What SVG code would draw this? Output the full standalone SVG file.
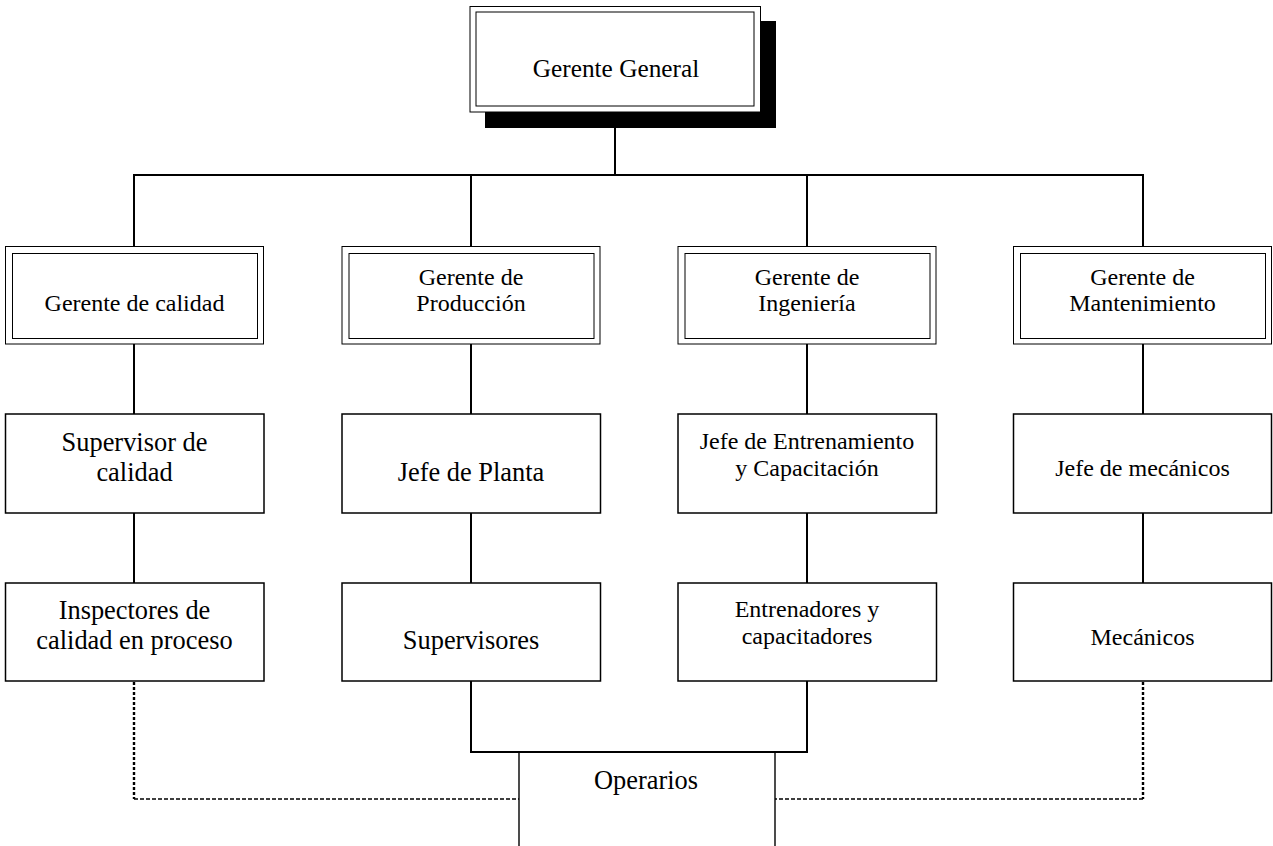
<svg xmlns="http://www.w3.org/2000/svg" width="1273" height="846" viewBox="0 0 1273 846">
  <style>
    text { font-family: "Liberation Serif", "Times New Roman", serif; fill: #000; text-anchor: middle; }
    .big { font-size: 26.4px; }
    .mid { font-size: 24px; }
    .top { font-size: 25.3px; }
    .box { fill: #fff; stroke: #000; stroke-width: 1.5; }
    .thin { fill: #fff; stroke: #000; stroke-width: 1; }
    .inner { fill: none; stroke: #000; stroke-width: 1; }
    .link { fill: none; stroke: #000; stroke-width: 2; }
    .link-thin { fill: none; stroke: #000; stroke-width: 1.4; }
    .dot { fill: none; stroke: #000; stroke-width: 2.4; stroke-dasharray: 3 2; }
    .dash { fill: none; stroke: #000; stroke-width: 1.3; stroke-dasharray: 4 2; }
  </style>
  <rect width="1273" height="846" fill="#fff"/>

  <!-- connectors -->
  <g id="connectors">
    <path class="link" d="M615 128 V175 M134 246 V175 H1143 V246 M471 175 V246 M807 175 V246"/>
    <path class="link" d="M134 344 V414 M471 344 V414 M807 344 V414 M1143 344 V414"/>
    <path class="link" d="M134 513 V583 M471 513 V583 M807 513 V583 M1143 513 V583"/>
    <path class="link" d="M471 681 V752 H807 V681"/>
    <path class="link-thin" d="M519 752 V846 M775 752 V846"/>
    <path class="dot" d="M134 682 V799"/>
    <path class="dash" d="M134 799 H519"/>
    <path class="dot" d="M1143 682 V799"/>
    <path class="dash" d="M1143 799 H775"/>
  </g>

  <!-- top node with drop shadow -->
  <g id="gerente-general">
    <rect x="485" y="21" width="291" height="107" fill="#000"/>
    <rect class="thin" x="470" y="6.5" width="290.5" height="105.5"/>
    <rect class="inner" x="476" y="12" width="278" height="94"/>
    <text class="top" x="616" y="77">Gerente General</text>
  </g>

  <!-- second level: double-framed managers -->
  <g id="gerente-calidad">
    <rect class="thin" x="5.5" y="246.5" width="258" height="97.5"/>
    <rect class="inner" x="12.5" y="253.5" width="245" height="85"/>
    <text class="mid" x="134.5" y="311">Gerente de calidad</text>
  </g>
  <g id="gerente-produccion">
    <rect class="thin" x="342" y="246.5" width="258" height="97.5"/>
    <rect class="inner" x="349" y="253.5" width="245" height="85"/>
    <text class="mid" x="471" y="285">Gerente de</text>
    <text class="mid" x="471" y="311">Producción</text>
  </g>
  <g id="gerente-ingenieria">
    <rect class="thin" x="678" y="246.5" width="258" height="97.5"/>
    <rect class="inner" x="685" y="253.5" width="245" height="85"/>
    <text class="mid" x="807" y="285">Gerente de</text>
    <text class="mid" x="807" y="311">Ingeniería</text>
  </g>
  <g id="gerente-mantenimiento">
    <rect class="thin" x="1013.5" y="246.5" width="258" height="97.5"/>
    <rect class="inner" x="1020.5" y="253.5" width="245" height="85"/>
    <text class="mid" x="1142.5" y="285">Gerente de</text>
    <text class="mid" x="1142.5" y="311">Mantenimiento</text>
  </g>

  <!-- third level -->
  <g id="supervisor-calidad">
    <rect class="box" x="5.5" y="414" width="258.5" height="99"/>
    <text class="big" x="134.5" y="451">Supervisor de</text>
    <text class="big" x="134.5" y="481">calidad</text>
  </g>
  <g id="jefe-planta">
    <rect class="box" x="342" y="414" width="258.5" height="99"/>
    <text class="big" x="471" y="481">Jefe de Planta</text>
  </g>
  <g id="jefe-entrenamiento">
    <rect class="box" x="678" y="414" width="258.5" height="99"/>
    <text class="mid" x="807" y="448.5">Jefe de Entrenamiento</text>
    <text class="mid" x="807" y="476">y Capacitación</text>
  </g>
  <g id="jefe-mecanicos">
    <rect class="box" x="1013.5" y="414" width="258" height="99"/>
    <text class="mid" x="1142.5" y="476">Jefe de mecánicos</text>
  </g>

  <!-- fourth level -->
  <g id="inspectores">
    <rect class="box" x="5.5" y="583" width="258.5" height="98"/>
    <text class="big" x="134.5" y="619">Inspectores de</text>
    <text class="big" x="134.5" y="648.5">calidad en proceso</text>
  </g>
  <g id="supervisores">
    <rect class="box" x="342" y="583" width="258.5" height="98"/>
    <text class="big" x="471" y="648.5">Supervisores</text>
  </g>
  <g id="entrenadores">
    <rect class="box" x="678" y="583" width="258.5" height="98"/>
    <text class="mid" x="807" y="617">Entrenadores y</text>
    <text class="mid" x="807" y="643.5">capacitadores</text>
  </g>
  <g id="mecanicos">
    <rect class="box" x="1013.5" y="583" width="258" height="98"/>
    <text class="mid" x="1142.5" y="645">Mecánicos</text>
  </g>

  <!-- open-bottom operators node -->
  <g id="operarios">
    <text class="big" x="646" y="788.5">Operarios</text>
  </g>
</svg>
